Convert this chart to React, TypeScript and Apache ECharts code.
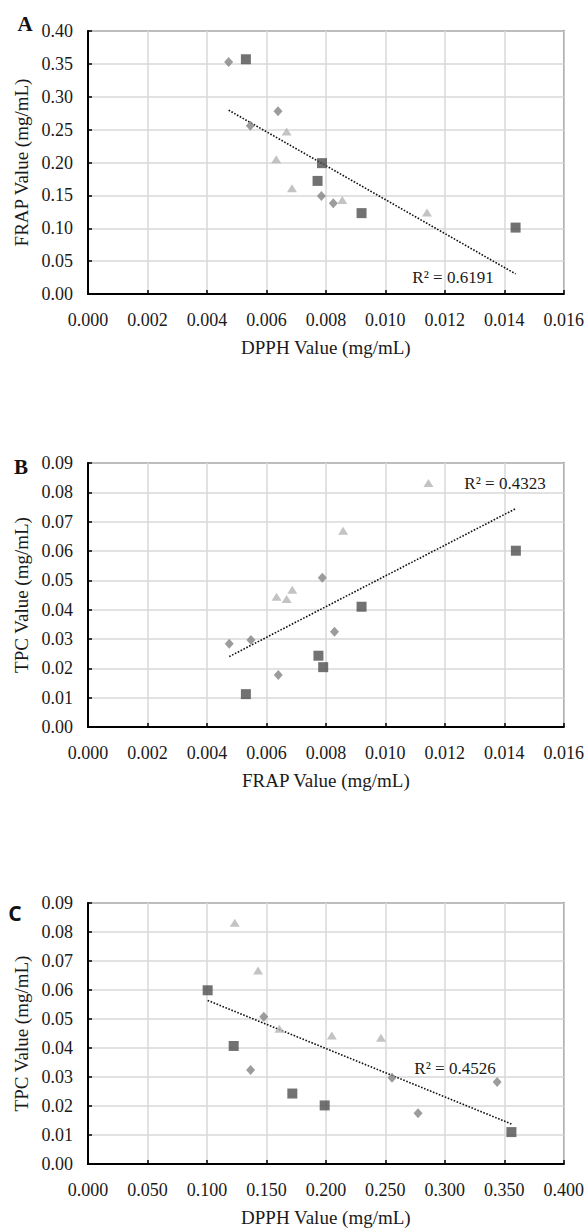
import React, { useEffect, useRef } from "react";
import * as echarts from "echarts";

// Panel A: x = DPPH, y = FRAP
const aDiamond = [[0.00473, 0.353], [0.00546, 0.256], [0.00639, 0.278], [0.00785, 0.149], [0.00825, 0.138]];
const aSquare = [[0.00531, 0.357], [0.00787, 0.199], [0.00772, 0.172], [0.0092, 0.123], [0.01438, 0.101]];
const aTriangle = [[0.00668, 0.247], [0.00633, 0.205], [0.00686, 0.161], [0.00855, 0.143], [0.0114, 0.124]];

// Panel B: x = "FRAP" axis (DPPH values), y = TPC
const bDiamond = [[0.00475, 0.0284], [0.00548, 0.0297], [0.0064, 0.0177], [0.00788, 0.0509], [0.00829, 0.0325]];
const bSquare = [[0.00531, 0.0112], [0.00791, 0.0204], [0.00775, 0.0243], [0.0092, 0.041], [0.01439, 0.0601]];
const bTriangle = [[0.00668, 0.0436], [0.00634, 0.0444], [0.00687, 0.0468], [0.00858, 0.0669], [0.01145, 0.0832]];

// Panel C: x = "DPPH" axis (FRAP values), y = TPC
const cDiamond = [[0.344, 0.0283], [0.2556, 0.0297], [0.2775, 0.0175], [0.1478, 0.0508], [0.1367, 0.0324]];
const cSquare = [[0.356, 0.011], [0.199, 0.0202], [0.1718, 0.0243], [0.1225, 0.0407], [0.1006, 0.0599]];
const cTriangle = [[0.2463, 0.0435], [0.205, 0.0443], [0.1609, 0.0466], [0.143, 0.0667], [0.1234, 0.0832]];

const panelLetters = ["A", "B", "C"];
const r2Labels = ["R² = 0.6191", "R² = 0.4323", "R² = 0.4526"];
const xTitles = ["DPPH Value (mg/mL)", "FRAP Value (mg/mL)", "DPPH Value (mg/mL)"];
const yTitles = ["FRAP Value (mg/mL)", "TPC Value (mg/mL)", "TPC Value (mg/mL)"];

function trend(points: number[][][]) {
  const all = points.flat();
  const n = all.length;
  const mx = all.reduce((s, p) => s + p[0], 0) / n;
  const my = all.reduce((s, p) => s + p[1], 0) / n;
  let sxy = 0, sxx = 0;
  all.forEach((p) => { sxy += (p[0] - mx) * (p[1] - my); sxx += (p[0] - mx) ** 2; });
  const b = sxy / sxx;
  const a = my - b * mx;
  const xs = all.map((p) => p[0]);
  const x0 = Math.min(...xs), x1 = Math.max(...xs);
  return [[x0, a + b * x0], [x1, a + b * x1]];
}

const SERIF = "'Liberation Serif', 'Times New Roman', serif";

export default function App() {
  const ref = useRef<HTMLDivElement>(null);
  useEffect(() => {
    if (!ref.current) return;
    const chart = echarts.init(ref.current, null, { renderer: "svg" });
    const grids = [
      { left: 88, top: 31, width: 477, height: 263 },
      { left: 88, top: 463, width: 477, height: 264 },
      { left: 88, top: 903, width: 477, height: 264 },
    ].map((g) => ({ ...g, show: true, borderColor: "#3c3c3c", borderWidth: 1.5, backgroundColor: "transparent" }));

    const axisCommon = {
      type: "value",
      axisLine: { show: true, onZero: false, lineStyle: { color: "#000", width: 2 } },
      axisTick: { show: true, inside: true, length: 4, lineStyle: { color: "#000", width: 1.5 } },
      splitLine: { show: true, lineStyle: { color: "#d9d9d9", width: 1.5 } },
      axisLabel: { color: "#1a1a1a", fontFamily: SERIF, fontSize: 18 },
      nameLocation: "middle",
      nameTextStyle: { color: "#1a1a1a", fontFamily: SERIF, fontSize: 19 },
    };
    const xRanges = [[0, 0.016, 0.002, 3], [0, 0.016, 0.002, 3], [0, 0.4, 0.05, 3]];
    const yRanges = [[0, 0.4, 0.05, 2], [0, 0.09, 0.01, 2], [0, 0.09, 0.01, 2]];
    const xAxis = xRanges.map((r, i) => ({
      ...axisCommon,
      gridIndex: i,
      min: r[0], max: r[1], interval: r[2],
      name: xTitles[i],
      nameGap: 44,
      axisLabel: { ...axisCommon.axisLabel, margin: 17, formatter: (v: number) => v.toFixed(r[3]) },
    }));
    const yAxis = yRanges.map((r, i) => ({
      ...axisCommon,
      gridIndex: i,
      min: r[0], max: r[1], interval: r[2],
      name: yTitles[i],
      nameGap: 52,
      axisLabel: { ...axisCommon.axisLabel, margin: 15, formatter: (v: number) => v.toFixed(r[3]) },
    }));

    const groups = [
      [aDiamond, aSquare, aTriangle],
      [bDiamond, bSquare, bTriangle],
      [cDiamond, cSquare, cTriangle],
    ];
    const styles = [
      { symbol: "diamond", symbolSize: [9, 10], color: "#838383" },
      { symbol: "rect", symbolSize: 10, color: "#4f4f4f" },
      { symbol: "triangle", symbolSize: [10, 8], color: "#b4b4b4" },
    ];
    const series: any[] = [];
    groups.forEach((g, i) => {
      g.forEach((pts, j) => {
        series.push({
          type: "scatter",
          xAxisIndex: i, yAxisIndex: i,
          data: pts,
          symbol: styles[j].symbol,
          symbolSize: styles[j].symbolSize,
          itemStyle: { color: styles[j].color },
          z: 3,
        });
      });
      series.push({
        type: "line",
        xAxisIndex: i, yAxisIndex: i,
        data: trend(g),
        symbol: "none",
        lineStyle: { color: "#111", width: 1.6, type: [1.6, 1.6] },
        z: 2,
      });
    });

    const r2Pos = [[453, 277], [505, 483], [455, 1068]];
    const letterPos = [[25, 24], [21, 467], [15, 913]];
    const graphic: any[] = [];
    r2Pos.forEach((p, i) => {
      graphic.push({
        type: "text", x: p[0], y: p[1], z: 10,
        style: { text: r2Labels[i], align: "center", verticalAlign: "middle", font: `17px ${SERIF}`, fill: "#1a1a1a" },
      });
    });
    letterPos.forEach((p, i) => {
      graphic.push({
        type: "text", x: p[0], y: p[1], z: 10,
        style: {
          text: panelLetters[i], align: "center", verticalAlign: "middle",
          font: i === 2 ? "bold 21px 'Open Sans', 'Noto Sans', sans-serif" : `bold 21px ${SERIF}`,
          fill: "#111",
        },
      });
    });

    chart.setOption({
      animation: false,
      backgroundColor: "#fff",
      grid: grids,
      xAxis,
      yAxis,
      series,
      graphic,
    });
    return () => chart.dispose();
  }, []);
  return <div ref={ref} style={{ position: "absolute", left: 0, top: 0, width: 587, height: 1228 }} />;
}
